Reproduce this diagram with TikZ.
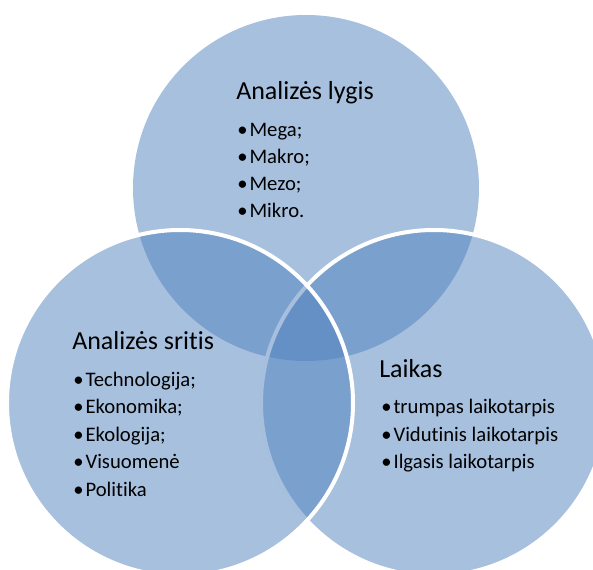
\documentclass[tikz,border=0pt]{standalone}
\usepackage{fontspec}
\setmainfont[Ligatures=NoCommon]{Carlito}
\definecolor{vennblue}{RGB}{79,129,189}
\tikzset{
  venn/.style={circle, inner sep=0pt, minimum size=259.5pt, fill=vennblue, fill opacity=0.5, draw opacity=1, line width=3pt},
  titletext/.style={anchor=base west, inner sep=0pt, font=\fontsize{19.5}{22}\selectfont, text=black},
  itemtext/.style={anchor=base west, inner sep=0pt, font=\fontsize{15.5}{18}\selectfont, text=black}
}
\newcommand{\bul}{\textbullet\hspace{1.5pt}}
\begin{document}
\begin{tikzpicture}[x=0.75pt,y=-0.75pt]
\useasboundingbox (0,0) rectangle (593,570);
\clip (0,0) rectangle (593,570);
\node[venn, draw=none] (ctop) at (306,188) {};
\node[venn, draw=white] (cright) at (434,403) {};
\node[venn, draw=white] (cleft) at (180,403) {};
% top block
\node[titletext] (t1) at (236,100) {Analizės lygis};
\node[itemtext] (t1a) at (237,137) {\bul Mega;};
\node[itemtext] (t1b) at (237,164) {\bul Makro;};
\node[itemtext] (t1c) at (237,191) {\bul Mezo;};
\node[itemtext] (t1d) at (237,218) {\bul Mikro.};
% left block
\node[titletext] (t2) at (72,350) {Analizės sritis};
\node[itemtext] (t2a) at (73,387) {\bul Technologija;};
\node[itemtext] (t2b) at (73,414) {\bul Ekonomika;};
\node[itemtext] (t2c) at (73,441.5) {\bul Ekologija;};
\node[itemtext] (t2d) at (73,469) {\bul Visuomenė};
\node[itemtext] (t2e) at (73,496) {\bul Politika};
% right block
\node[titletext] (t3) at (379,378) {Laikas};
\node[itemtext] (t3a) at (381,414) {\bul trumpas laikotarpis};
\node[itemtext] (t3b) at (381,441) {\bul Vidutinis laikotarpis};
\node[itemtext] (t3c) at (381,468) {\bul Ilgasis laikotarpis};
\end{tikzpicture}
\end{document}
